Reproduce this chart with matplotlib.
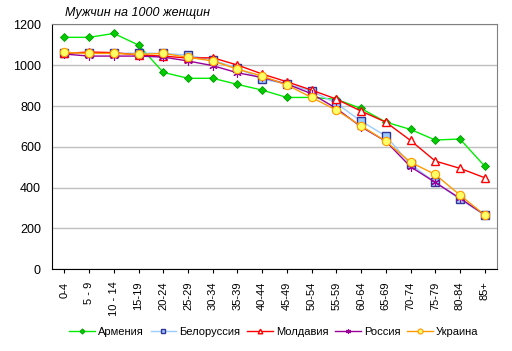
import numpy as np
import matplotlib.pyplot as plt

plt.rcParams['font.family'] = ['Liberation Sans', 'DejaVu Sans']

ages = ["0-4", "5 - 9", "10 - 14", "15-19", "20-24", "25-29", "30-34", "35-39", "40-44",
        "45-49", "50-54", "55-59", "60-64", "65-69", "70-74", "75-79", "80-84", "85+"]

armenia = [1137, 1137, 1156, 1099, 965, 936, 936, 906, 878, 842, 842, 833, 788, 721, 685, 633, 638, 505]
belarus = [1060, 1060, 1058, 1060, 1058, 1050, 1025, 985, 932, 908, 873, 813, 726, 653, 514, 425, 342, 265]
moldavia = [1058, 1065, 1062, 1050, 1045, 1035, 1037, 1001, 957, 919, 878, 834, 775, 721, 631, 530, 494, 448]
russia = [1055, 1045, 1045, 1045, 1040, 1021, 998, 963, 940, 908, 860, 788, 698, 627, 502, 425, 347, 266]
ukraine = [1063, 1058, 1058, 1053, 1058, 1039, 1021, 981, 947, 903, 842, 780, 703, 627, 524, 464, 363, 265]

fig = plt.figure(figsize=(5.12, 3.51), dpi=100)
ax = fig.add_axes([0.1016, 0.2336, 0.8692, 0.6966])
x = np.arange(len(ages))

ax.plot(x, armenia, color="#00ee00", lw=1, marker="D", ms=4.5, mfc="#00cc00", mec="#009900",
        mew=0.6, label="Армения")
ax.plot(x, belarus, color="#99ccff", lw=1, marker="s", ms=5.5, mfc="#99ccff", mec="#333399",
        mew=1, label="Белоруссия")
ax.plot(x, moldavia, color="#ff0000", lw=1, marker="^", ms=5.5, mfc="white", mec="#ff0000",
        mew=1, label="Молдавия")
ax.plot(x, russia, color="#990099", lw=1, marker=(6, 2, 0), ms=6, mec="#990099",
        mew=0.8, label="Россия")
ax.plot(x, ukraine, color="#ff9900", lw=1, marker="o", ms=6, mfc="#ffff66", mec="#ff9900",
        mew=0.8, label="Украина")

ax.set_xlim(-0.5, 17.5)
ax.set_ylim(0, 1200)
ax.set_yticks(range(0, 1201, 200))
ax.set_xticks(x)
ax.set_xticklabels(ages, rotation=90, fontsize=8)
ax.tick_params(axis="y", labelsize=9, length=0, pad=8)
ax.tick_params(axis="x", length=3, pad=6)
ax.grid(axis="y", color="#c0c0c0", lw=1)
ax.set_axisbelow(True)
for s in ["left", "bottom"]:
    ax.spines[s].set_color("black")
for s in ["top", "right"]:
    ax.spines[s].set_color("#808080")

fig.text(0.127, 0.955, "Мужчин на 1000 женщин", fontsize=9, style="italic")

handles, labels = ax.get_legend_handles_labels()
fig.legend(handles, labels, loc="center", bbox_to_anchor=(0.535, 0.055), ncol=5, frameon=False,
           fontsize=8, handlelength=2.3, markerscale=0.6, columnspacing=0.6, handletextpad=0.3)

fig.savefig("out.png", dpi=100)
